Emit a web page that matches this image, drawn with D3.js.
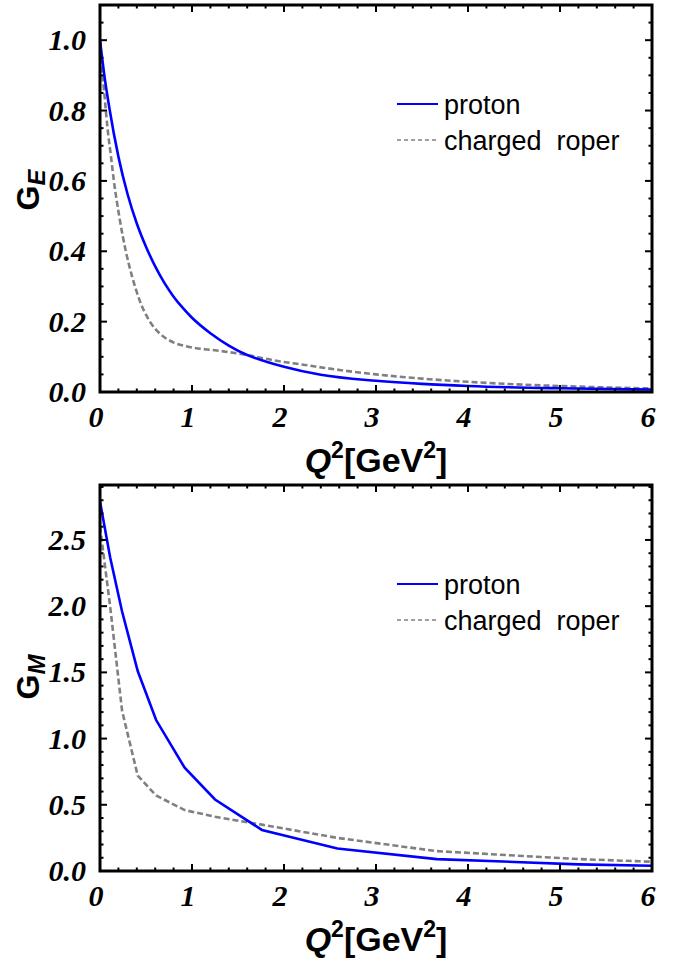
<!DOCTYPE html>
<html>
<head>
<meta charset="utf-8">
<script src="https://cdnjs.cloudflare.com/ajax/libs/d3/7.8.5/d3.min.js"></script>
<style>
    body { margin: 0; background: #fff; }
    .tick-label { font-family: "Liberation Serif", "Times New Roman", serif; font-weight: bold; font-style: italic; font-size: 30px; }
    .axis-label { font-family: "Liberation Sans", Arial, sans-serif; font-weight: bold; }
    .legend-text { font-family: "Liberation Sans", Arial, sans-serif; font-size: 27px; }
</style>
</head>
<body>
<div id="chart"></div>
<script>
// electric form factor (top panel)
const q2ElecProton = [0, 0.05, 0.1, 0.2, 0.3, 0.4, 0.5, 0.6, 0.7, 0.8, 0.9, 1.0, 1.2, 1.4, 1.6, 1.8, 2.0, 2.4, 3, 3.5, 4, 5, 6];
const geProton = [1.0, 0.895, 0.81, 0.669, 0.562, 0.479, 0.413, 0.357, 0.31, 0.271, 0.239, 0.211, 0.167, 0.132, 0.105, 0.087, 0.072, 0.049, 0.032, 0.023, 0.017, 0.0105, 0.007];
const q2ElecRoper = [0, 0.04, 0.08, 0.12, 0.15, 0.21, 0.28, 0.35, 0.43, 0.54, 0.65, 0.79, 0.97, 1.27, 1.56, 1.89, 2.25, 2.62, 3, 3.5, 4, 4.5, 5, 5.5, 6];
const geRoper = [0.95, 0.867, 0.754, 0.668, 0.602, 0.498, 0.401, 0.327, 0.261, 0.201, 0.166, 0.142, 0.128, 0.118, 0.107, 0.09, 0.076, 0.062, 0.05, 0.038, 0.029, 0.022, 0.017, 0.013, 0.01];

// magnetic form factor (bottom panel)
const q2Mag = [0, 0.11, 0.24, 0.41, 0.61, 0.92, 1.25, 1.76, 2.58, 3.66, 5.2, 6];
const gmProton = [2.79, 2.37, 1.96, 1.51, 1.14, 0.78, 0.54, 0.31, 0.17, 0.09, 0.05, 0.04];
const gmRoper = [2.6, 2.0, 1.21, 0.72, 0.57, 0.46, 0.41, 0.35, 0.25, 0.15, 0.09, 0.07];

const xTicks = [0, 1, 2, 3, 4, 5, 6];
const geTicks = [0.0, 0.2, 0.4, 0.6, 0.8, 1.0];
const gmTicks = [0.0, 0.5, 1.0, 1.5, 2.0, 2.5];
const legendNames = ["proton", "charged  roper"];

const svg = d3.select("#chart").append("svg")
    .attr("width", 690)
    .attr("height", 967);

function drawPanel(p) {
    let x = d3.scaleLinear().domain([0, 6]).range([p.left, p.right]);
    let y = d3.scaleLinear().domain([0, p.ymax]).range([p.bottom, p.top]);

    let g = svg.append("g");

    // clip so curves stay in the frame
    let clipId = "clip-" + p.id;
    g.append("clipPath").attr("id", clipId)
        .append("rect")
        .attr("x", p.left).attr("y", p.top)
        .attr("width", p.right - p.left).attr("height", p.bottom - p.top);

    let line = d3.line()
        .x(d => x(d[0]))
        .y(d => y(d[1]))
        .curve(p.curve);

    let plot = g.append("g").attr("clip-path", `url(#${clipId})`);

    plot.append("path")
        .datum(p.roperX.map((v, i) => [v, p.roperY[i]]))
        .attr("fill", "none")
        .attr("stroke", "#808080")
        .attr("stroke-width", 2.6)
        .attr("stroke-dasharray", "6,3")
        .attr("d", line);

    plot.append("path")
        .datum(p.protonX.map((v, i) => [v, p.protonY[i]]))
        .attr("fill", "none")
        .attr("stroke", "#0000ff")
        .attr("stroke-width", 2.6)
        .attr("d", line);

    // ticks on all four sides, pointing inwards
    let minorX = d3.range(0, 6.0001, 0.2);
    let minorY = d3.range(0, p.ymax, p.minorStep);

    let tickG = g.append("g").attr("stroke", "#000").attr("stroke-width", 2);
    minorX.forEach(v => {
        let major = Math.abs(v - Math.round(v)) < 1e-6;
        let len = major ? 7 : 3.5;
        tickG.append("line").attr("x1", x(v)).attr("x2", x(v)).attr("y1", p.bottom).attr("y2", p.bottom - len);
        tickG.append("line").attr("x1", x(v)).attr("x2", x(v)).attr("y1", p.top).attr("y2", p.top + len);
    });
    minorY.forEach(v => {
        let major = p.yTicks.some(t => Math.abs(t - v) < 1e-6);
        let len = major ? 7 : 3.5;
        tickG.append("line").attr("y1", y(v)).attr("y2", y(v)).attr("x1", p.left).attr("x2", p.left + len);
        tickG.append("line").attr("y1", y(v)).attr("y2", y(v)).attr("x1", p.right).attr("x2", p.right - len);
    });

    // frame
    g.append("rect")
        .attr("x", p.left).attr("y", p.top)
        .attr("width", p.right - p.left).attr("height", p.bottom - p.top)
        .attr("fill", "none")
        .attr("stroke", "#000")
        .attr("stroke-width", 3);

    // tick labels
    g.selectAll(".ylab")
        .data(p.yTicks)
        .enter().append("text")
        .attr("class", "tick-label")
        .attr("x", p.left - 14)
        .attr("y", d => y(d) + 10)
        .attr("text-anchor", "end")
        .text(d => d.toFixed(1));

    g.selectAll(".xlab")
        .data(xTicks)
        .enter().append("text")
        .attr("class", "tick-label")
        .attr("x", d => x(d) - 4)
        .attr("y", p.bottom + 35)
        .attr("text-anchor", "middle")
        .text(d => d);

    // x axis title
    let xt = g.append("text")
        .attr("class", "axis-label")
        .attr("x", (p.left + p.right) / 2)
        .attr("y", p.bottom + 80)
        .attr("text-anchor", "middle")
        .style("font-size", "34px");
    xt.append("tspan").style("font-style", "italic").text("Q");
    xt.append("tspan").attr("dy", -14).style("font-size", "23px").text("2");
    xt.append("tspan").attr("dy", 14).text("[GeV");
    xt.append("tspan").attr("dy", -14).style("font-size", "23px").text("2");
    xt.append("tspan").attr("dy", 14).text("]");

    // y axis title
    let yt = g.append("text")
        .attr("class", "axis-label")
        .attr("transform", `translate(39, ${p.yTitleY}) rotate(-90)`)
        .attr("text-anchor", "middle")
        .style("font-size", "32px");
    yt.append("tspan").text("G");
    yt.append("tspan").attr("dy", 6).style("font-size", "24px").style("font-style", "italic").text(p.sub);

    // legend
    let leg = g.append("g").attr("transform", `translate(397, ${p.legendY})`);
    legendNames.forEach((name, i) => {
        let row = leg.append("g").attr("transform", `translate(0, ${i * 36})`);
        row.append("line")
            .attr("x1", 0).attr("x2", 41)
            .attr("stroke", i === 0 ? "#0000ff" : "#808080")
            .attr("stroke-width", i === 0 ? 2 : 1.6)
            .attr("stroke-dasharray", i === 0 ? null : "4,3");
        row.append("text")
            .attr("class", "legend-text")
            .attr("x", 47)
            .attr("y", 10)
            .attr("xml:space", "preserve")
            .text(name);
    });
}

drawPanel({
    id: "ge", left: 100, right: 652, top: 5, bottom: 392, ymax: 1.1,
    yTicks: geTicks, minorStep: 0.05, sub: "E", yTitleY: 190, legendY: 104,
    protonX: q2ElecProton, protonY: geProton, roperX: q2ElecRoper, roperY: geRoper,
    curve: d3.curveMonotoneX
});

drawPanel({
    id: "gm", left: 100, right: 652, top: 485, bottom: 871, ymax: 2.915,
    yTicks: gmTicks, minorStep: 0.1, sub: "M", yTitleY: 677, legendY: 584,
    protonX: q2Mag, protonY: gmProton, roperX: q2Mag, roperY: gmRoper,
    curve: d3.curveLinear
});
</script>
</body>
</html>
